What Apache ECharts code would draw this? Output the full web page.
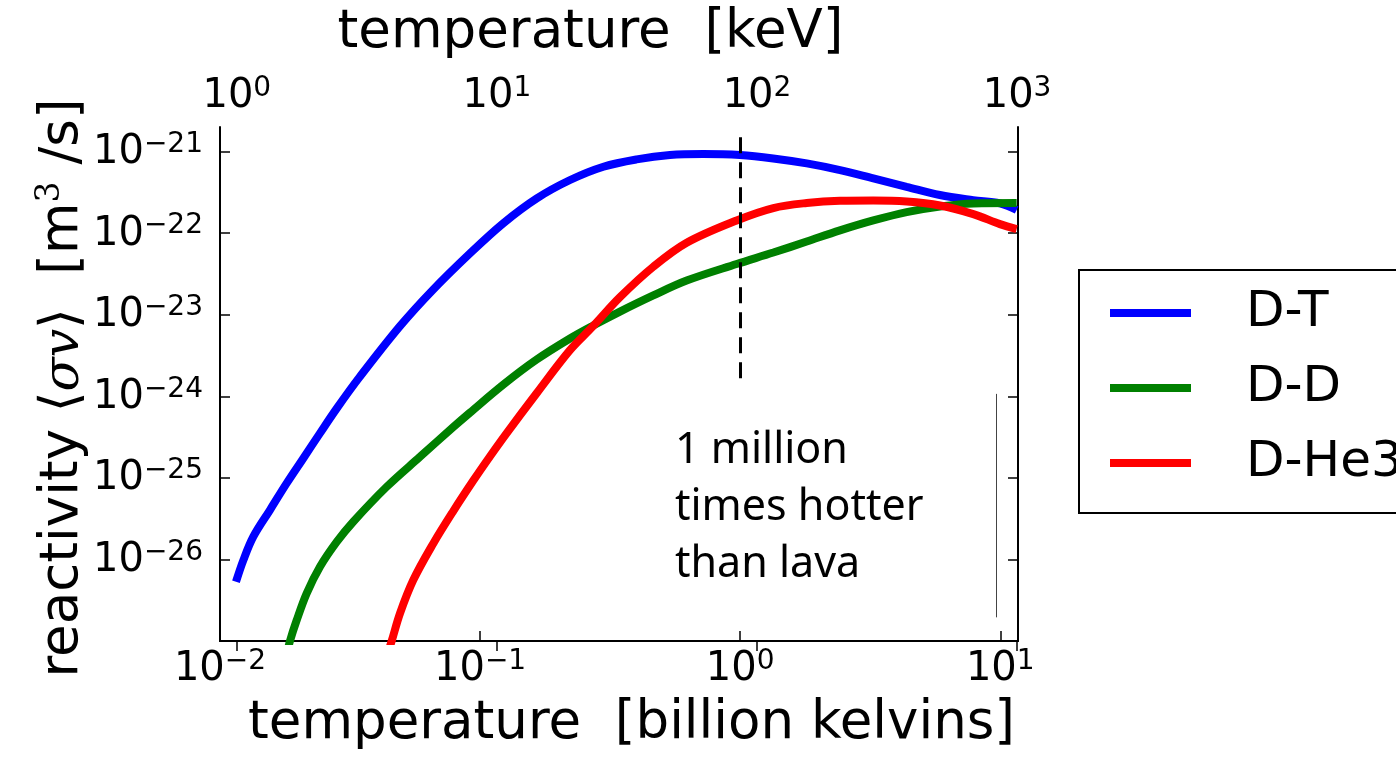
<!DOCTYPE html>
<html><head><meta charset="utf-8">
<script src="https://cdn.jsdelivr.net/npm/echarts@6/dist/echarts.min.js"></script>
<style>html,body{margin:0;padding:0;background:#fff}#c{width:1396px;height:759px}</style>
</head><body><div id="c"></div>
<script>
// ---- data (temperature in billion kelvins, reactivity <sigma v> in m^3/s) ----
const dtTemperature = [0.01152, 0.01230, 0.01343, 0.01556, 0.01803, 0.02089, 0.02421, 0.02812, 0.03451, 0.04920, 0.06607, 0.09141, 0.1227, 0.1652, 0.2218, 0.2979, 0.3999, 0.5370, 0.7211, 0.9982, 1.340, 1.803, 2.421, 3.251, 4.365, 5.861, 7.870, 9.977, 11.56];
const dtReactivity  = [5.32e-27, 9.82e-27, 1.90e-26, 4.03e-26, 8.55e-26, 1.73e-25, 3.51e-25, 7.11e-25, 1.74e-24, 7.24e-24, 2.04e-23, 5.65e-23, 1.32e-22, 2.67e-22, 4.48e-22, 6.52e-22, 8.02e-22, 9.06e-22, 9.31e-22, 9.06e-22, 8.24e-22, 7.16e-22, 5.93e-22, 4.69e-22, 3.70e-22, 2.93e-22, 2.54e-22, 2.32e-22, 1.92e-22];

const ddTemperature = [0.01799, 0.01858, 0.01972, 0.02154, 0.02423, 0.02810, 0.03254, 0.04375, 0.05873, 0.07889, 0.09146, 0.1228, 0.1650, 0.2216, 0.2723, 0.3450, 0.4634, 0.6226, 0.9694, 1.341, 1.802, 2.419, 3.249, 4.366, 5.864, 7.875, 11.56];
const ddReactivity  = [6.5e-28, 1.0e-27, 1.80e-27, 3.84e-27, 8.13e-27, 1.64e-26, 2.90e-26, 7.78e-26, 1.81e-25, 4.20e-25, 6.31e-25, 1.39e-24, 2.82e-24, 5.11e-24, 7.36e-24, 1.09e-23, 1.72e-23, 2.62e-23, 4.18e-23, 5.78e-23, 7.89e-23, 1.08e-22, 1.43e-22, 1.81e-22, 2.12e-22, 2.31e-22, 2.34e-22];

const dhe3Temperature = [0.04365, 0.04572, 0.04921, 0.05535, 0.06608, 0.07889, 0.09417, 0.1091, 0.1266, 0.1650, 0.2216, 0.2723, 0.3450, 0.4634, 0.6226, 0.9694, 1.341, 1.802, 2.419, 3.249, 4.366, 5.864, 7.875, 9.972, 11.56];
const dhe3Reactivity  = [6.3e-28, 1.0e-27, 2.18e-27, 5.58e-27, 1.57e-26, 3.92e-26, 9.27e-26, 1.83e-25, 3.54e-25, 1.09e-24, 3.68e-24, 7.26e-24, 1.64e-23, 3.87e-23, 7.62e-23, 1.43e-22, 2.03e-22, 2.34e-22, 2.49e-22, 2.51e-22, 2.44e-22, 2.18e-22, 1.71e-22, 1.29e-22, 1.12e-22];

const seriesNames = ['D-T', 'D-D', 'D-He3'];
const seriesColors = ['#0000ff', '#008000', '#ff0000'];

const bottomTickExponents = [-2, -1, 0, 1];      // 10^-2 .. 10^1 billion K
const topTickExponents = [0, 1, 2, 3];           // 10^0 .. 10^3 keV
const leftTickExponents = [-27, -26, -25, -24, -23, -22, -21];

const xMinGK = 0.01, xMaxGK = 11.7;
const yMin = 1e-27, yMax = 2.0e-21;
const keVPerGK = 86.17;

const dashedMarkerGK = 1.0, dashedTop = 1.5e-21, dashedBottom = 1.66e-24;
const thinMarkerGK = 9.63, thinTop = 1.07e-24, thinBottom = 1.95e-27;
const noteText = '1 million\ntimes hotter\nthan lava';
const yTitle = '{t|reactivity }{a|\u27E8}{m|\u03C3v}{a|\u27E9}{t|  [m}{p|3}{t| /s]}';

// ---- helpers ----
const FONT = 'DejaVu Sans';
function powLabel(allowed) {
  return function (v) {
    const l = Math.log10(v);
    const e = Math.round(l);
    if (Math.abs(l - e) > 1e-6 || allowed.indexOf(e) < 0) return '';
    const es = e < 0 ? '\u2212' + (-e) : String(e);
    return '{b|10}{s|' + es + '}';
  };
}
const powRich = {
  b: { fontSize: 40, fontFamily: FONT, color: '#000', lineHeight: 42, verticalAlign: 'bottom' },
  s: { fontSize: 28, fontFamily: FONT, color: '#000', lineHeight: 28, verticalAlign: 'top', padding: [0, 0, 24, 0] }
};
const tickStyle = { show: true, inside: true, length: 10, lineStyle: { color: '#000', width: 1.5 } };
const lineStyleAxis = { show: true, lineStyle: { color: '#000', width: 2 } };

const pairs = (xs, ys) => xs.map((x, i) => [x, ys[i]]);

const chart = echarts.init(document.getElementById('c'), null, { renderer: 'canvas' });
chart.setOption({
  animation: false,
  backgroundColor: '#fff',
  grid: { left: 220, top: 127, width: 798, height: 514, containLabel: false, outerBoundsMode: 'none', show: false },
  xAxis: [
    {
      type: 'log', logBase: 10, min: xMinGK, max: xMaxGK, position: 'bottom',
      axisLine: lineStyleAxis, axisTick: tickStyle, splitLine: { show: false }, minorTick: { show: false },
      axisLabel: { show: true, margin: 7, formatter: powLabel(bottomTickExponents), rich: powRich, showMaxLabel: false, showMinLabel: true },
      name: 'temperature  [billion kelvins]', nameLocation: 'middle', nameGap: 57, nameMoveOverlap: false,
      nameTextStyle: { fontSize: 53, fontFamily: FONT, color: '#000', lineHeight: 53, padding: [0, 0, 0, 25] }
    },
    {
      type: 'log', logBase: 10, min: xMinGK * keVPerGK, max: xMaxGK * keVPerGK, position: 'top',
      axisLine: lineStyleAxis, axisTick: tickStyle, splitLine: { show: false },
      axisLabel: { show: true, margin: 10, formatter: powLabel(topTickExponents), rich: powRich, showMinLabel: false, showMaxLabel: false },
      name: 'temperature  [keV]', nameLocation: 'middle', nameGap: 67, nameMoveOverlap: false,
      nameTextStyle: { fontSize: 53, fontFamily: FONT, color: '#000', lineHeight: 53, padding: [0, 57, 0, 0] }
    }
  ],
  yAxis: [
    {
      type: 'log', logBase: 10, min: yMin, max: yMax, position: 'left',
      axisLine: lineStyleAxis, axisTick: tickStyle, splitLine: { show: false },
      axisLabel: { show: true, margin: 17, formatter: powLabel(leftTickExponents), rich: powRich, showMaxLabel: false }
    },
    {
      type: 'log', logBase: 10, min: yMin, max: yMax, position: 'right',
      axisLine: lineStyleAxis, axisTick: tickStyle, splitLine: { show: false },
      axisLabel: { show: false }
    }
  ],
  legend: {
    orient: 'vertical', left: 1079, top: 270,
    data: seriesNames,
    icon: 'rect', itemWidth: 81, itemHeight: 8, itemGap: 25,
    backgroundColor: '#fff', borderColor: '#000', borderWidth: 2, borderRadius: 0,
    padding: [18, 60, 25, 31],
    selectedMode: false,
    textStyle: { fontSize: 50, fontFamily: FONT, color: '#000', lineHeight: 50, padding: [0, 0, 0, 50] }
  },
  series: [
    {
      name: seriesNames[0], type: 'line', xAxisIndex: 0, yAxisIndex: 0,
      data: pairs(dtTemperature, dtReactivity), showSymbol: false, symbol: 'none', smooth: 0.35,
      lineStyle: { color: seriesColors[0], width: 8 }, itemStyle: { color: seriesColors[0] }, clip: true,
      markLine: {
        silent: true, symbol: ['none', 'none'], label: { show: false }, animation: false,
        lineStyle: { color: '#000', width: 3, type: [16, 9] },
        data: [
          [{ coord: [dashedMarkerGK, dashedTop] }, { coord: [dashedMarkerGK, dashedBottom] }],
          [{ coord: [thinMarkerGK, thinTop], lineStyle: { color: '#444', width: 1, type: 'solid' } }, { coord: [thinMarkerGK, thinBottom] }]
        ]
      }
    },
    {
      name: seriesNames[1], type: 'line', xAxisIndex: 0, yAxisIndex: 0,
      data: pairs(ddTemperature, ddReactivity), showSymbol: false, symbol: 'none', smooth: 0.35,
      lineStyle: { color: seriesColors[1], width: 8 }, itemStyle: { color: seriesColors[1] }, clip: true
    },
    {
      name: seriesNames[2], type: 'line', xAxisIndex: 0, yAxisIndex: 0,
      data: pairs(dhe3Temperature, dhe3Reactivity), showSymbol: false, symbol: 'none', smooth: 0.35,
      lineStyle: { color: seriesColors[2], width: 8 }, itemStyle: { color: seriesColors[2] }, clip: true
    }
  ],
  graphic: [
    {
      type: 'text', left: 675, top: 422, silent: true,
      style: { text: noteText, font: '43px "Noto Sans"', lineHeight: 57, fill: '#000' }
    },
    {
      type: 'text', x: 62, y: 388, rotation: Math.PI / 2, silent: true,
      style: {
        text: yTitle, align: 'center', verticalAlign: 'middle', fill: '#000',
        font: '53px "DejaVu Sans"',
        rich: {
          t: { fontSize: 53, fontFamily: FONT, fill: '#000', lineHeight: 56, verticalAlign: 'bottom' },
          a: { fontSize: 53, fontFamily: FONT, fill: '#000', lineHeight: 56, verticalAlign: 'bottom' },
          m: { fontSize: 50, fontFamily: 'DejaVu Serif', fontStyle: 'italic', fill: '#000', lineHeight: 56, verticalAlign: 'bottom' },
          p: { fontSize: 33, fontFamily: 'DejaVu Serif', fill: '#000', lineHeight: 33, verticalAlign: 'top', padding: [0, 0, 32, 0] }
        }
      }
    }
  ]
});
</script>
</body></html>
